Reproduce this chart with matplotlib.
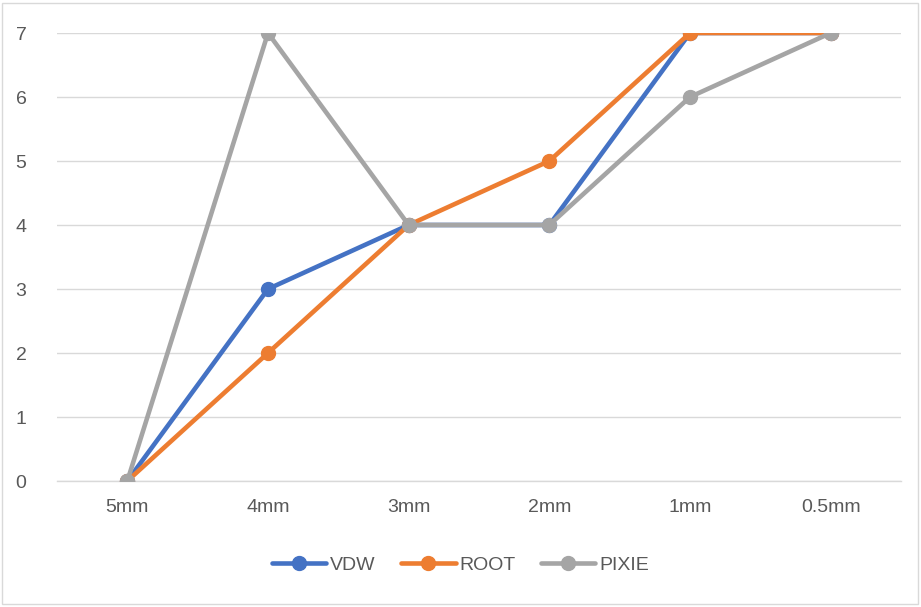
import matplotlib.pyplot as plt
from matplotlib.patches import Rectangle

# Data
categories = ["5mm", "4mm", "3mm", "2mm", "1mm", "0.5mm"]
vdw = [0, 3, 4, 4, 7, 7]
root = [0, 2, 4, 5, 7, 7]
pixie = [0, 7, 4, 4, 6, 7]

plt.rcParams['font.family'] = ['Liberation Sans', 'DejaVu Sans']

fig = plt.figure(figsize=(9.21, 6.07), dpi=100)
ax = fig.add_axes([57 / 921, 1 - 481 / 607, 844 / 921, 448 / 607])

x = range(len(categories))
series = [("VDW", vdw, "#4472C4"), ("ROOT", root, "#ED7D31"), ("PIXIE", pixie, "#A5A5A5")]
for name, vals, col in series:
    ax.plot(x, vals, color=col, lw=3.3, marker="o", ms=10, label=name,
            solid_capstyle="round", solid_joinstyle="round", zorder=3)

ax.set_xlim(-0.5, len(categories) - 0.5)
ax.set_ylim(0, 7)
ax.set_yticks(range(8))
ax.set_xticks(list(x))
ax.set_xticklabels(categories)
ax.grid(axis="y", color="#D9D9D9", lw=1)
ax.set_axisbelow(True)
for s in ["top", "right", "left"]:
    ax.spines[s].set_visible(False)
ax.spines["bottom"].set_color("#D9D9D9")
ax.spines["bottom"].set_linewidth(1)
ax.tick_params(axis="both", length=0, labelsize=14, colors="#595959")
ax.tick_params(axis="y", pad=22)
ax.tick_params(axis="x", pad=13)

leg = fig.legend(loc="center", bbox_to_anchor=(0.5, 1 - 565 / 607), ncol=3,
                 frameon=False, fontsize=14, handlelength=2.8, handletextpad=0.2,
                 columnspacing=1.3)
for t in leg.get_texts():
    t.set_color("#595959")

# Outer border
fig.patches.append(Rectangle((2 / 921, 3 / 607), 916 / 921, 601 / 607, transform=fig.transFigure,
                             fill=False, edgecolor="#D9D9D9", lw=1))

fig.savefig("out.png", dpi=100)
